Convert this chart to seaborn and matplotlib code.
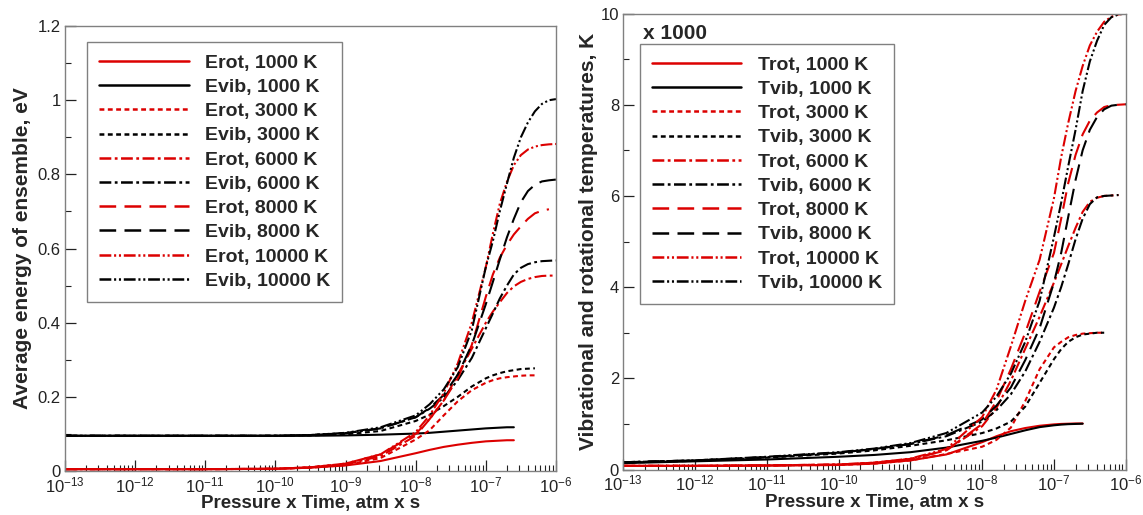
import numpy as np
import matplotlib
matplotlib.use("Agg")
import matplotlib.pyplot as plt
import seaborn as sns
from matplotlib.ticker import LogLocator, LogFormatterMathtext, MultipleLocator, FuncFormatter

# Pressure x Time grid (atm x s)
PT = [1e-13, 1e-12, 1e-11, 1e-10, 3.16e-10, 1e-9, 3.16e-9, 1e-8, 1.58e-8, 2.51e-8,
      3.98e-8, 6.31e-8, 1e-7, 1.26e-7, 1.58e-7, 2.0e-7, 2.51e-7, 3.16e-7, 3.98e-7,
      5.01e-7, 6.31e-7, 7.94e-7, 1e-6]

TEMPS = [1000, 3000, 6000, 8000, 10000]

# Left panel: average energy of ensemble, eV
EROT_1000 = [0.005, 0.005, 0.005, 0.006, 0.009, 0.015, 0.027, 0.048, 0.057, 0.065, 0.071, 0.076, 0.080, 0.081, 0.082, 0.083, 0.083]
EVIB_1000 = [0.095, 0.095, 0.095, 0.095, 0.095, 0.096, 0.098, 0.101, 0.103, 0.106, 0.109, 0.112, 0.115, 0.116, 0.117, 0.118, 0.118]
EROT_3000 = [0.005, 0.005, 0.005, 0.006, 0.009, 0.016, 0.035, 0.085, 0.11, 0.15, 0.188, 0.218, 0.238, 0.245, 0.25, 0.253, 0.255, 0.257, 0.258, 0.258]
EVIB_3000 = [0.095, 0.095, 0.095, 0.095, 0.096, 0.099, 0.108, 0.135, 0.152, 0.175, 0.2, 0.228, 0.25, 0.258, 0.264, 0.269, 0.272, 0.275, 0.276, 0.277]
EROT_6000 = [0.005, 0.005, 0.005, 0.006, 0.01, 0.018, 0.04, 0.095, 0.14, 0.19, 0.26, 0.33, 0.40, 0.43, 0.455, 0.48, 0.498, 0.51, 0.518, 0.523, 0.526, 0.527, 0.527]
EVIB_6000 = [0.095, 0.095, 0.095, 0.095, 0.097, 0.102, 0.115, 0.145, 0.168, 0.198, 0.245, 0.305, 0.385, 0.425, 0.465, 0.50, 0.53, 0.548, 0.558, 0.563, 0.566, 0.567, 0.568]
EROT_8000 = [0.005, 0.005, 0.005, 0.006, 0.01, 0.02, 0.045, 0.10, 0.14, 0.19, 0.25, 0.34, 0.47, 0.53, 0.575, 0.61, 0.638, 0.66, 0.68, 0.695, 0.702, 0.706]
EVIB_8000 = [0.095, 0.095, 0.095, 0.095, 0.097, 0.102, 0.115, 0.145, 0.17, 0.205, 0.26, 0.34, 0.45, 0.51, 0.57, 0.63, 0.68, 0.725, 0.755, 0.772, 0.781, 0.784, 0.786]
EROT_10000 = [0.005, 0.005, 0.005, 0.006, 0.01, 0.02, 0.045, 0.105, 0.15, 0.21, 0.29, 0.40, 0.55, 0.64, 0.72, 0.78, 0.825, 0.852, 0.867, 0.875, 0.879, 0.881, 0.882]
EVIB_10000 = [0.095, 0.095, 0.095, 0.095, 0.097, 0.103, 0.118, 0.15, 0.18, 0.22, 0.28, 0.38, 0.55, 0.62, 0.70, 0.775, 0.845, 0.90, 0.94, 0.97, 0.99, 1.0, 1.003]

# Right panel: temperatures, K x 1000
TROT_1000 = [0.08, 0.08, 0.085, 0.1, 0.13, 0.2, 0.33, 0.6, 0.73, 0.84, 0.91, 0.96, 0.99, 1.0, 1.005, 1.01, 1.01]
TVIB_1000 = [0.14, 0.18, 0.22, 0.28, 0.32, 0.38, 0.48, 0.63, 0.7, 0.78, 0.86, 0.93, 0.97, 0.985, 0.995, 1.0, 1.005]
TROT_3000 = [0.08, 0.08, 0.09, 0.1, 0.13, 0.2, 0.34, 0.5, 0.65, 0.92, 1.5, 2.2, 2.68, 2.8, 2.9, 2.95, 2.98, 2.99, 3.0, 3.0]
TVIB_3000 = [0.15, 0.19, 0.26, 0.35, 0.42, 0.52, 0.64, 0.8, 0.9, 1.05, 1.38, 1.9, 2.42, 2.64, 2.8, 2.9, 2.96, 2.98, 3.0, 3.0]
TROT_6000 = [0.08, 0.08, 0.09, 0.11, 0.15, 0.23, 0.42, 0.95, 1.35, 1.95, 2.65, 3.35, 4.1, 4.5, 4.9, 5.3, 5.65, 5.87, 5.96, 6.0, 6.01, 6.02]
TVIB_6000 = [0.16, 0.2, 0.27, 0.37, 0.45, 0.56, 0.73, 1.05, 1.3, 1.65, 2.15, 2.8, 3.55, 4.0, 4.5, 5.05, 5.5, 5.82, 5.97, 6.0, 6.01, 6.02]
TROT_8000 = [0.08, 0.08, 0.09, 0.11, 0.15, 0.23, 0.42, 1.0, 1.5, 2.2, 3.0, 3.9, 4.75, 5.5, 6.28, 6.9, 7.35, 7.65, 7.83, 7.95, 7.99, 8.0, 8.01]
TVIB_8000 = [0.16, 0.2, 0.27, 0.37, 0.45, 0.56, 0.75, 1.1, 1.4, 1.8, 2.4, 3.1, 4.1, 4.75, 5.54, 6.35, 7.0, 7.45, 7.73, 7.9, 7.98, 8.0, 8.01]
TROT_10000 = [0.08, 0.08, 0.09, 0.11, 0.15, 0.24, 0.45, 1.15, 1.75, 2.7, 3.7, 4.6, 5.95, 6.85, 7.6, 8.3, 8.85, 9.3, 9.6, 9.82, 9.93, 9.98, 10.0]
TVIB_10000 = [0.16, 0.2, 0.28, 0.38, 0.46, 0.58, 0.8, 1.25, 1.6, 2.1, 2.8, 3.7, 5.1, 5.85, 6.65, 7.45, 8.3, 8.95, 9.4, 9.75, 9.92, 9.98, 10.0]

LEFT_ROT = [EROT_1000, EROT_3000, EROT_6000, EROT_8000, EROT_10000]
LEFT_VIB = [EVIB_1000, EVIB_3000, EVIB_6000, EVIB_8000, EVIB_10000]
RIGHT_ROT = [TROT_1000, TROT_3000, TROT_6000, TROT_8000, TROT_10000]
RIGHT_VIB = [TVIB_1000, TVIB_3000, TVIB_6000, TVIB_8000, TVIB_10000]

RED = "#dc0000"
BLACK = "#000000"
STYLES = {1000: "-",
          3000: (0, (3.5, 2.5)),
          6000: (0, (8.5, 2.5, 2.0, 2.5)),
          8000: (0, (12, 6)),
          10000: (0, (8.5, 2.0, 1.5, 2.0, 1.5, 2.0))}

sns.set_style("white")
plt.rcParams["font.family"] = ["Liberation Sans", "DejaVu Sans"]
plt.rcParams["mathtext.default"] = "regular"
plt.rcParams["lines.scale_dashes"] = False

fig = plt.figure(figsize=(11.43, 5.15), dpi=100)
axL = fig.add_axes([0.0569, 0.0854, 0.4295, 0.864])
axR = fig.add_axes([0.5453, 0.0883, 0.4396, 0.8854])


def draw(ax, rot, vib, rname, vname):
    ax.set_xscale("log")
    for T, r, v in zip(TEMPS, rot, vib):
        sns.lineplot(x=PT[:len(r)], y=r, ax=ax, color=RED, linestyle=STYLES[T],
                     lw=1.5, label=f"{rname}, {T} K", sort=False, estimator=None)
        sns.lineplot(x=PT[:len(v)], y=v, ax=ax, color=BLACK, linestyle=STYLES[T],
                     lw=1.5, label=f"{vname}, {T} K", sort=False, estimator=None)
    ax.set_xlim(1e-13, 1e-6)
    ax.xaxis.set_major_locator(LogLocator(base=10, numticks=20))
    ax.xaxis.set_minor_locator(LogLocator(base=10, subs=np.arange(2, 10), numticks=200))
    ax.xaxis.set_major_formatter(LogFormatterMathtext())
    ax.tick_params(which="both", direction="in", top=False, right=False,
                   bottom=True, left=True, colors="#222222")
    ax.tick_params(which="major", length=8, width=0.9, labelsize=12, pad=3)
    ax.tick_params(which="minor", length=4, width=0.8)
    for s in ax.spines.values():
        s.set_color("#808080")
        s.set_linewidth(1.0)
    ax.set_xlabel("Pressure x Time, atm x s", fontsize=13.5, fontweight="bold", labelpad=0)


draw(axL, LEFT_ROT, LEFT_VIB, "Erot", "Evib")
axL.set_ylim(0, 1.2)
axL.yaxis.set_major_locator(MultipleLocator(0.2))
axL.yaxis.set_minor_locator(MultipleLocator(0.1))
axL.yaxis.set_major_formatter(FuncFormatter(lambda v, p: f"{v:g}"))
axL.set_ylabel("Average energy of ensemble, eV", fontsize=15, fontweight="bold", labelpad=4)

draw(axR, RIGHT_ROT, RIGHT_VIB, "Trot", "Tvib")
axR.set_ylim(0, 10)
axR.yaxis.set_major_locator(MultipleLocator(2))
axR.yaxis.set_minor_locator(MultipleLocator(1))
axR.yaxis.set_major_formatter(FuncFormatter(lambda v, p: f"{v:g}"))
axR.set_ylabel("Vibrational and rotational temperatures, K", fontsize=15,
               fontweight="bold", labelpad=2)
axR.text(0.039, 0.978, "x 1000", transform=axR.transAxes, fontsize=15,
         fontweight="bold", va="top", ha="left")

for ax, anchor in [(axL, (0.045, 0.964)), (axR, (0.033, 0.933))]:
    leg = ax.legend(loc="upper left", bbox_to_anchor=anchor, borderaxespad=0,
                    prop={"weight": "bold", "size": 14}, handlelength=4.6,
                    handletextpad=0.85, labelspacing=0.34, borderpad=0.62,
                    frameon=True, fancybox=False, framealpha=1,
                    edgecolor="#808080")
    leg.get_frame().set_linewidth(1.0)
    for ln in leg.get_lines():
        ln.set_linewidth(1.8)

fig.savefig("out.png", dpi=100)
